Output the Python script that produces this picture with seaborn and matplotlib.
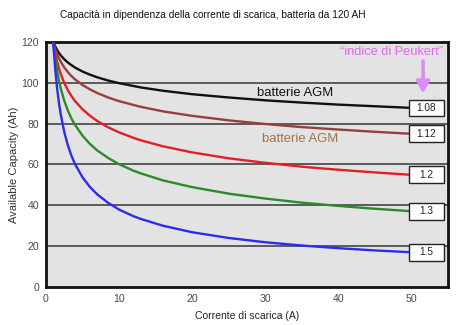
import matplotlib
matplotlib.use("Agg")
import matplotlib.pyplot as plt
from matplotlib.patches import Rectangle
import seaborn as sns
import pandas as pd

# ---- data ----
current_a = [1, 1.1, 1.25, 1.5, 1.75, 2, 2.5, 3, 3.5, 4, 5, 6, 7, 8.5, 10, 12, 13, 16,
             20, 25, 30, 35, 40, 45, 50]
cap_k108 = [120, 119.1, 117.9, 116.2, 114.7, 113.5, 111.5, 109.9, 108.6, 107.4, 105.5, 104.0,
            102.7, 101.1, 99.8, 98.4, 97.7, 96.1, 94.4, 92.8, 91.4, 90.3, 89.3, 88.5, 87.7]
cap_k112 = [120, 118.6, 116.8, 114.3, 112.2, 110.4, 107.5, 105.2, 103.2, 101.6, 98.9, 96.8,
            95.0, 92.8, 91.0, 89.1, 88.2, 86.0, 83.8, 81.6, 79.8, 78.3, 77.1, 76.0, 75.0]
cap_k120 = [120, 117.7, 114.8, 110.7, 107.3, 104.5, 99.9, 96.3, 93.4, 90.9, 87.0, 83.9,
            81.3, 78.2, 75.7, 73.0, 71.8, 68.9, 65.9, 63.0, 60.8, 58.9, 57.4, 56.1, 54.9]
cap_k130 = [120, 116.6, 112.2, 106.3, 101.5, 97.5, 91.2, 86.3, 82.4, 79.2, 74.1, 70.1,
            66.9, 63.2, 60.1, 56.9, 55.6, 52.2, 48.9, 45.7, 43.3, 41.3, 39.7, 38.3, 37.1]
cap_k150 = [120, 114.4, 107.3, 98.0, 90.7, 84.9, 75.9, 69.3, 64.1, 60.0, 53.7, 49.0,
            45.4, 41.2, 37.9, 34.6, 33.3, 30.0, 26.8, 24.0, 21.9, 20.3, 19.0, 17.9, 17.0]
peukert_labels = ["1.08", "1.12", "1.2", "1.3", "1.5"]
series = [cap_k108, cap_k112, cap_k120, cap_k130, cap_k150]
colors = ["#111111", "#973f3f", "#e21f26", "#2b8a2b", "#2c2cea"]
x_ticks = [0, 10, 20, 30, 40, 50]
y_ticks = [0, 20, 40, 60, 80, 100, 120]

title = "Capacità in dipendenza della corrente di scarica, batteria da 120 AH"
xlabel = "Corrente di scarica (A)"
ylabel = "Available Capacity (Ah)"

rows = []
for lab, vals in zip(peukert_labels, series):
    for x, y in zip(current_a, vals):
        rows.append({"I": x, "C": y, "k": lab})
df = pd.DataFrame(rows)

sns.set_style("white")
plt.rcParams["font.family"] = ["Liberation Sans", "DejaVu Sans"]

fig = plt.figure(figsize=(4.74, 3.25), dpi=100)
ax = fig.add_axes([0.097, 0.117, 0.848, 0.754])
ax.set_facecolor("#e3e3e3")

for yv in y_ticks[1:-1]:
    ax.axhline(yv, color="#505050", lw=1.3, zorder=1)

sns.lineplot(data=df, x="I", y="C", hue="k", palette=colors, lw=1.7,
             legend=False, ax=ax, zorder=3, solid_joinstyle="round", solid_capstyle="round")

ax.set_xlim(0, 55)
ax.set_ylim(0, 120)
ax.set_xticks(x_ticks)
ax.set_yticks(y_ticks)
ax.tick_params(length=0, labelsize=7.6, labelcolor="#4a4a4a", pad=5)
for s in ax.spines.values():
    s.set_color("#111111")
    s.set_linewidth(2)
ax.set_xlabel(xlabel, fontsize=7.5, color="#222222", labelpad=5)
ax.set_ylabel(ylabel, fontsize=8, color="#333333", labelpad=2)
fig.text(0.448, 0.953, title, ha="center", va="center", fontsize=7.3, color="#111111")

# value boxes at end of each curve
box_w, box_h = 4.7, 8.2
for lab, vals in zip(peukert_labels, series):
    yend = vals[-1]
    ax.add_patch(Rectangle((current_a[-1] - 0.3, yend - box_h / 2), box_w, box_h,
                           facecolor="white", edgecolor="#222222", lw=1.0, zorder=5))
    ax.text(current_a[-1] - 0.3 + box_w / 2, yend, lab, ha="center", va="center",
            fontsize=7.2, color="#222222", zorder=6)

ax.text(28.9, 95.2, "batterie AGM", fontsize=9.4, color="#111111", ha="left", va="center", zorder=6)
ax.text(29.6, 72.5, "batterie AGM", fontsize=9.4, color="#a0714f", ha="left", va="center", zorder=6)
ax.text(54.3, 115.2, "\u201cindice di Peukert\u201d", fontsize=9.2, color="#e566e8",
        ha="right", va="center", zorder=6)
ax.annotate("", xy=(51.6, 93.5), xytext=(51.6, 112),
            arrowprops=dict(arrowstyle="-|>,head_length=0.7,head_width=0.4",
                            color="#d98cf2", lw=2.5), zorder=6)

fig.savefig("out.png", dpi=100)
